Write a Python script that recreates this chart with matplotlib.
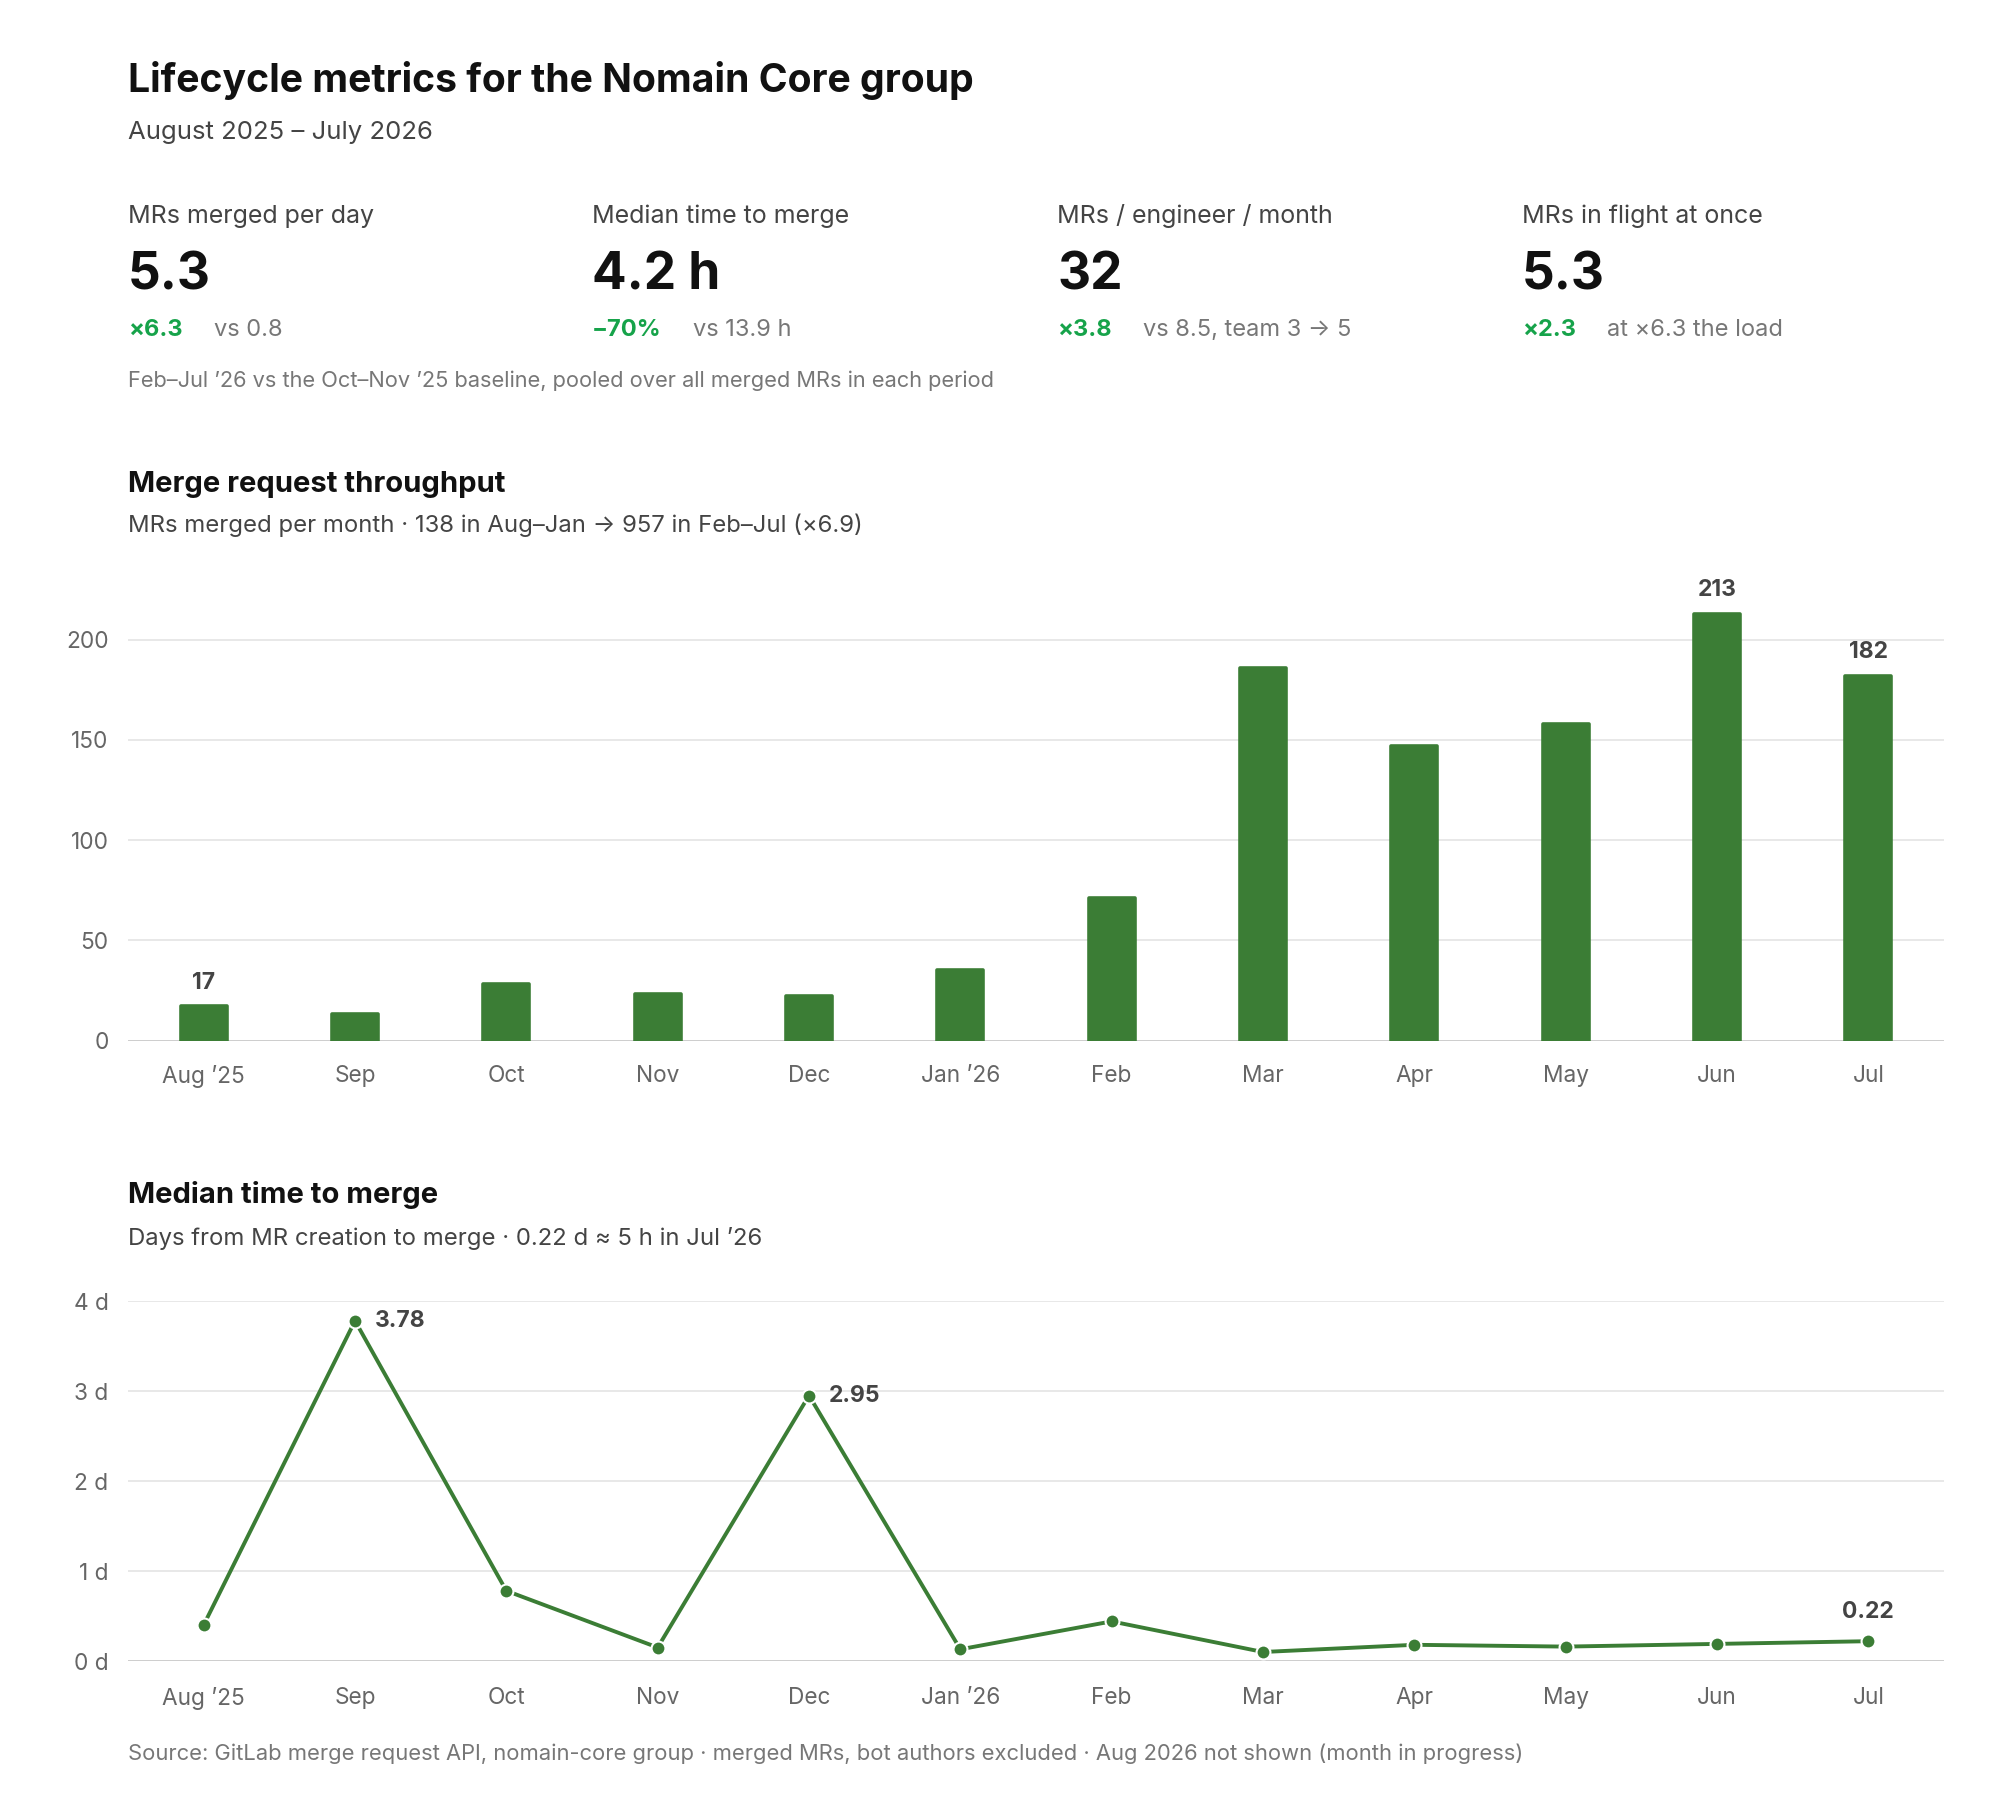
import matplotlib.pyplot as plt

plt.rcParams['font.family'] = ['Inter', 'DejaVu Sans']

# data
months = ['Aug \u201925', 'Sep', 'Oct', 'Nov', 'Dec', 'Jan \u201926',
          'Feb', 'Mar', 'Apr', 'May', 'Jun', 'Jul']
merged = [17, 13, 28, 23, 22, 35, 71, 186, 147, 158, 213, 182]
ttm_days = [0.40, 3.78, 0.78, 0.15, 2.95, 0.13, 0.44, 0.10, 0.18, 0.16, 0.19, 0.22]

kpi_labels = ['MRs merged per day', 'Median time to merge',
              'MRs / engineer / month', 'MRs in flight at once']
kpi_values = ['5.3', '4.2 h', '32', '5.3']
kpi_deltas = ['\u00d76.3', '\u221270%', '\u00d73.8', '\u00d72.3']
kpi_notes = ['vs 0.8', 'vs 13.9 h', 'vs 8.5, team 3 \u2192 5', 'at \u00d76.3 the load']

bar_labels_at = [0, 10, 11]
line_labels_at = [1, 4]

GREEN = '#3b7d35'
DELTA = '#16a34a'
W, H = 2000, 1816
LEFT, RIGHT = 128, 1944

fig = plt.figure(figsize=(W / 100, H / 100), dpi=100)


def fy(y):
    return 1 - y / H


def fx(x):
    return x / W


# header
fig.text(fx(LEFT), fy(80), 'Lifecycle metrics for the Nomain Core group',
         fontsize=28.2, fontweight='bold', color='#111111', va='center')
fig.text(fx(LEFT), fy(133), 'August 2025 \u2013 July 2026',
         fontsize=18.5, color='#444444', va='center')

renderer = fig.canvas.get_renderer()
kpi_x = [LEFT, 592, 1057, 1522]
for x, lab, val, d, n in zip(kpi_x, kpi_labels, kpi_values, kpi_deltas, kpi_notes):
    fig.text(fx(x), fy(216), lab, fontsize=18, color='#444444', va='center')
    fig.text(fx(x), fy(276), val, fontsize=37, fontweight='bold', color='#111111', va='center')
    t = fig.text(fx(x), fy(330), d, fontsize=17, fontweight='bold', color=DELTA, va='center')
    w = t.get_window_extent(renderer).width
    fig.text(fx(x + w + 31), fy(330), n, fontsize=17, color='#777777', va='center')

fig.text(fx(LEFT), fy(381),
         'Feb\u2013Jul \u201926 vs the Oct\u2013Nov \u201925 baseline, pooled over all merged MRs in each period',
         fontsize=15.7, color='#777777', va='center')

# throughput section
fig.text(fx(LEFT), fy(484), 'Merge request throughput',
         fontsize=21, fontweight='bold', color='#111111', va='center')
fig.text(fx(LEFT), fy(525),
         'MRs merged per month \u00b7 138 in Aug\u2013Jan \u2192 957 in Feb\u2013Jul (\u00d76.9)',
         fontsize=17.2, color='#444444', va='center')

bar_zero, bar_top = 1040.5, 579.5
ax1 = fig.add_axes([fx(LEFT), fy(bar_zero), fx(RIGHT) - fx(LEFT), (bar_zero - bar_top) / H])
x = range(len(months))
ax1.bar(x, merged, width=0.305, color=GREEN, edgecolor=GREEN, linewidth=2.6,
        joinstyle='round', zorder=3)
ax1.set_xlim(-0.5, len(months) - 0.5)
ax1.set_ylim(0, 230)
ax1.set_yticks([0, 50, 100, 150, 200])
ax1.set_xticks(list(x))
ax1.set_xticklabels(months)
for i in bar_labels_at:
    ax1.annotate(str(merged[i]), (i, merged[i]), xytext=(0, 17), textcoords='offset points',
                 ha='center', va='center', fontsize=16.5, fontweight='bold', color='#444444')

# time to merge section
fig.text(fx(LEFT), fy(1195), 'Median time to merge',
         fontsize=21, fontweight='bold', color='#111111', va='center')
fig.text(fx(LEFT), fy(1238),
         'Days from MR creation to merge \u00b7 0.22 d \u2248 5 h in Jul \u201926',
         fontsize=17.2, color='#444444', va='center')

line_zero, line_top = 1661, 1301
ax2 = fig.add_axes([fx(LEFT), fy(line_zero), fx(RIGHT) - fx(LEFT), (line_zero - line_top) / H])
ax2.plot(list(x), ttm_days, color=GREEN, linewidth=2.8, marker='o', markersize=10,
         markerfacecolor=GREEN, markeredgecolor='white', markeredgewidth=1.5,
         clip_on=False, zorder=3)
ax2.set_xlim(-0.5, len(months) - 0.5)
ax2.set_ylim(0, 4)
ax2.set_yticks([0, 1, 2, 3, 4])
ax2.set_yticklabels([f'{v} d' for v in range(5)])
ax2.set_xticks(list(x))
ax2.set_xticklabels(months)
for i in line_labels_at:
    ax2.annotate(f'{ttm_days[i]:.2f}', (i, ttm_days[i]), xytext=(14, 0), textcoords='offset points',
                 ha='left', va='center', fontsize=16.5, fontweight='bold', color='#444444')
last = len(months) - 1
ax2.annotate(f'{ttm_days[last]:.2f}', (last, ttm_days[last]), xytext=(0, 21), textcoords='offset points',
             ha='center', va='center', fontsize=16.5, fontweight='bold', color='#444444')

for ax in (ax1, ax2):
    for s in ax.spines.values():
        s.set_visible(False)
    ax.grid(axis='y', color='#e6e6e6', linewidth=1.3, zorder=0)
    ax.set_axisbelow(True)
    ax.axhline(0, color='#cccccc', linewidth=1.3, zorder=2)
    ax.tick_params(axis='both', length=0, labelsize=16.3, labelcolor='#666666')
    ax.tick_params(axis='y', pad=14)
ax1.tick_params(axis='x', pad=17.5)
ax2.tick_params(axis='x', pad=19)

fig.text(fx(LEFT), fy(1754),
         'Source: GitLab merge request API, nomain-core group \u00b7 merged MRs, bot authors excluded '
         '\u00b7 Aug 2026 not shown (month in progress)',
         fontsize=15.8, color='#777777', va='center')

fig.savefig('out.png', dpi=100, facecolor='white')
